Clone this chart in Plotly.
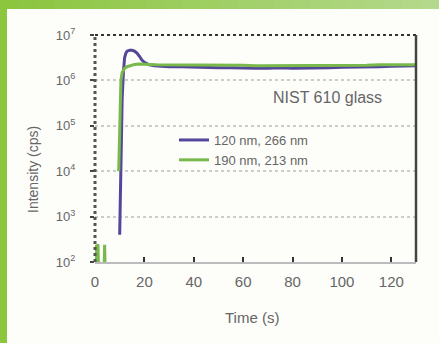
import plotly.graph_objects as go

# ---------------- data ----------------
blue_name = "120 nm, 266 nm"
green_name = "190 nm, 213 nm"

blue_t = [10, 10.5, 11, 11.5, 12, 12.5, 13, 14, 15, 16, 17, 18, 19, 20, 21, 22, 24, 26, 28, 30,
          35, 40, 45, 50, 55, 60, 65, 70, 75, 80, 85, 90, 95, 100, 105, 110, 115, 120, 125, 130]
blue_v = [400, 1.5e4, 4e5, 1.5e6, 3.2e6, 4.0e6, 4.4e6, 4.6e6, 4.6e6, 4.4e6, 4.0e6, 3.4e6, 2.8e6,
          2.5e6, 2.3e6, 2.2e6, 2.1e6, 2.05e6, 2.0e6, 2.0e6, 2.0e6, 1.95e6, 1.95e6, 1.9e6, 1.9e6,
          1.85e6, 1.85e6, 1.85e6, 1.9e6, 1.85e6, 1.85e6, 1.9e6, 1.9e6, 1.95e6, 1.95e6, 2.0e6,
          2.0e6, 2.05e6, 2.1e6, 2.1e6]

green_t = [0.3, 0.6, 0.9, 1.2, 1.5, None, 3.6, 3.9, 4.2, None,
           9.6, 10, 10.5, 11, 11.5, 12, 13, 14, 15, 16, 18, 20, 22, 25, 30, 35, 40, 45, 50, 55,
           60, 65, 70, 75, 80, 85, 90, 95, 100, 105, 110, 115, 120, 125, 130]
green_v = [40, 240, 50, 250, 40, None, 40, 240, 40, None,
           1e4, 2e5, 1.0e6, 1.5e6, 1.7e6, 1.85e6, 2.0e6, 2.1e6, 2.2e6, 2.25e6, 2.3e6, 2.3e6,
           2.25e6, 2.2e6, 2.2e6, 2.2e6, 2.2e6, 2.15e6, 2.15e6, 2.2e6, 2.15e6, 2.1e6, 2.1e6,
           2.15e6, 2.1e6, 2.1e6, 2.15e6, 2.1e6, 2.1e6, 2.15e6, 2.15e6, 2.2e6, 2.2e6, 2.2e6, 2.2e6]

x_ticks = [0, 20, 40, 60, 80, 100, 120]
x_ticktext = ["0", "20", "40", "60", "80", "100", "120"]
y_ticks = [1e2, 1e3, 1e4, 1e5, 1e6, 1e7]
y_ticktext = ["10<sup>2</sup>", "10<sup>3</sup>", "10<sup>4</sup>", "10<sup>5</sup>",
              "10<sup>6</sup>", "10<sup>7</sup>"]

# ---------------- layout geometry ----------------
W, H = 439, 343
L, R, T, B = 95, 23, 35, 81
PW, PH = W - L - R, H - T - B


def px(x):
    return (x - L) / PW


def py(y):
    return 1 - (y - T) / PH


FONT = "Liberation Sans, Arial, sans-serif"
TXT = "#666666"

fig = go.Figure()
fig.add_trace(go.Scatter(x=blue_t, y=blue_v, mode="lines", name=blue_name,
                         line=dict(color="#54479a", width=3)))
fig.add_trace(go.Scatter(x=green_t, y=green_v, mode="lines", name=green_name,
                         line=dict(color="#79b94c", width=3), connectgaps=False))

shapes = []
# green frame: left bar
shapes.append(dict(type="rect", xref="paper", yref="paper", x0=px(0), x1=px(7),
                   y0=py(H), y1=py(0), fillcolor="#8cc63f", line=dict(width=0), layer="below"))
# top band gradient
n = 24
c0 = (0x8c, 0xc6, 0x3f)
c1 = (0xb4, 0xd9, 0x8c)
for i in range(n):
    f = i / (n - 1)
    c = tuple(int(c0[k] + (c1[k] - c0[k]) * f) for k in range(3))
    shapes.append(dict(type="rect", xref="paper", yref="paper",
                       x0=px(W * i / n), x1=px(W * (i + 1) / n + 1),
                       y0=py(9), y1=py(0), fillcolor="rgb(%d,%d,%d)" % c,
                       line=dict(width=0), layer="below"))
# frame lines
shapes.append(dict(type="line", xref="paper", yref="paper", x0=0, x1=1, y0=1, y1=1,
                   line=dict(color="#333333", width=2, dash="dot")))
shapes.append(dict(type="line", xref="paper", yref="paper", x0=1, x1=1, y0=0, y1=1,
                   line=dict(color="#444444", width=2.5)))
shapes.append(dict(type="line", xref="paper", yref="paper", x0=0, x1=0, y0=0, y1=1,
                   line=dict(color="#555555", width=3, dash="dot")))

annotations = [
    dict(text="NIST 610 glass", xref="paper", yref="paper", x=px(327), y=py(97),
         showarrow=False, font=dict(family=FONT, size=16, color=TXT),
         xanchor="center", yanchor="middle"),
    dict(text="Intensity (cps)", xref="paper", yref="paper", x=px(33), y=py(170),
         showarrow=False, textangle=-90, font=dict(family=FONT, size=14, color=TXT),
         xanchor="center", yanchor="middle"),
    dict(text="Time (s)", xref="paper", yref="paper", x=px(252), y=py(317),
         showarrow=False, font=dict(family=FONT, size=15, color=TXT),
         xanchor="center", yanchor="middle"),
]

fig.update_layout(
    width=W, height=H,
    margin=dict(l=L, r=R, t=T, b=B),
    paper_bgcolor="#fdfdfa", plot_bgcolor="#fdfdfa",
    font=dict(family=FONT, color=TXT),
    shapes=shapes, annotations=annotations,
    showlegend=True,
    legend=dict(x=px(174), y=py(125), xanchor="left", yanchor="top",
                bgcolor="rgba(0,0,0,0)", font=dict(family=FONT, size=13, color=TXT),
                tracegroupgap=0, itemwidth=30),
)
fig.update_xaxes(range=[0, 130], tickvals=x_ticks, ticktext=x_ticktext,
                 ticks="inside", ticklen=5, tickwidth=2, tickcolor="#333333",
                 showgrid=False, zeroline=False, showline=True, linecolor="#bbbbbb",
                 linewidth=2, tickfont=dict(family=FONT, size=15, color=TXT),
                 ticklabelstandoff=5)
fig.update_yaxes(type="log", range=[2, 7], tickvals=y_ticks, ticktext=y_ticktext,
                 ticks="outside", ticklen=4, tickwidth=1.5, tickcolor="#444444",
                 showgrid=True, gridcolor="#cccccc", gridwidth=1.5, griddash="dot",
                 zeroline=False, showline=False, tickfont=dict(family=FONT, size=13, color=TXT),
                 ticklabelstandoff=12)

fig.write_html("out.html", config={"displayModeBar": False},
               post_script="document.body.style.margin='0';document.body.style.padding='0';")
